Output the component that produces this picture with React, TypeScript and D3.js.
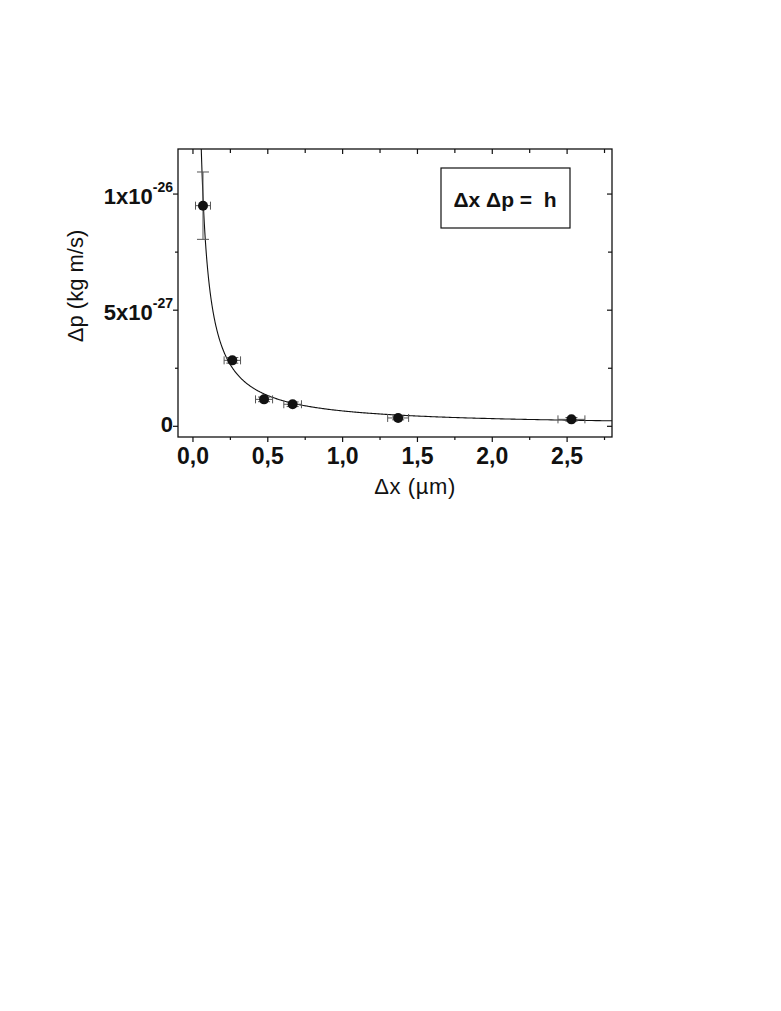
import { useMemo } from "react";
import * as d3 from "d3";

const W = 781;
const H_PX = 1011;
const FRAME = { left: 178, top: 149, right: 612, bottom: 437 };

// measured points: Δx in µm, Δp in kg m/s
const dx = [0.067, 0.263, 0.475, 0.666, 1.371, 2.529];
const dp = [9.5e-27, 2.84e-27, 1.16e-27, 0.95e-27, 0.36e-27, 0.3e-27];
const dxErr = [0.05, 0.055, 0.057, 0.059, 0.07, 0.09];
const dpErr = [1.45e-27, 0.12e-27, 0.1e-27, 0.1e-27, 0.08e-27, 0.08e-27];

// Planck constant expressed for Δx in µm -> Δp in kg m/s
const PLANCK_UM = 6.626e-28;

const xTicks = [0, 0.5, 1, 1.5, 2, 2.5];
const xMinor = [-0.25, 0.25, 0.75, 1.25, 1.75, 2.25, 2.75];
const yTicks = [0, 5e-27, 1e-26];
const yTickMain = ["0", "5x10", "1x10"];
const yTickSup = ["", "-27", "-26"];
const yMinor = [2.5e-27, 7.5e-27];

const FONT = "Arial, 'Liberation Sans', Helvetica, sans-serif";

const Chart = () => {
  const x = useMemo(
    () => d3.scaleLinear().domain([-0.1, 2.8]).range([FRAME.left, FRAME.right]),
    []
  );
  const y = useMemo(
    () => d3.scaleLinear().domain([-0.46e-27, 1.194e-26]).range([FRAME.bottom, FRAME.top]),
    []
  );

  // theoretical curve Δx·Δp = h
  const curvePath = useMemo(() => {
    const xStart = PLANCK_UM / y.domain()[1];
    const xs = d3.range(0, 401).map((i) => xStart * Math.pow(2.8 / xStart, i / 400));
    const line = d3
      .line<number>()
      .x((v) => x(v))
      .y((v) => y(PLANCK_UM / v))
      .curve(d3.curveMonotoneX);
    return line(xs) ?? "";
  }, [x, y]);

  const fmtX = (v: number) => d3.format(".1f")(v).replace(".", ",");

  return (
    <svg width={W} height={H_PX} style={{ position: "absolute", left: 0, top: 0 }}>
      <rect width={W} height={H_PX} fill="white" />
      <defs>
        <clipPath id="plot">
          <rect
            x={FRAME.left}
            y={FRAME.top}
            width={FRAME.right - FRAME.left}
            height={FRAME.bottom - FRAME.top}
          />
        </clipPath>
      </defs>

      {/* curve */}
      <path d={curvePath} fill="none" stroke="#111" strokeWidth={1.1} clipPath="url(#plot)" />

      {/* error bars */}
      <g stroke="#555" strokeWidth={1}>
        {dx.map((v, i) => {
          const cx = x(v);
          const cy = y(dp[i]);
          const x0 = x(v - dxErr[i]);
          const x1 = x(v + dxErr[i]);
          const y0 = y(dp[i] - dpErr[i]);
          const y1 = y(dp[i] + dpErr[i]);
          return (
            <g key={i}>
              <line x1={x0} x2={x1} y1={cy} y2={cy} />
              <line x1={x0} x2={x0} y1={cy - 4} y2={cy + 4} />
              <line x1={x1} x2={x1} y1={cy - 4} y2={cy + 4} />
              <line x1={cx} x2={cx} y1={y0} y2={y1} />
              <line x1={cx - 6} x2={cx + 6} y1={y0} y2={y0} />
              <line x1={cx - 6} x2={cx + 6} y1={y1} y2={y1} />
            </g>
          );
        })}
      </g>

      {/* points */}
      {dx.map((v, i) => (
        <circle key={i} cx={x(v)} cy={y(dp[i])} r={5} fill="#111" />
      ))}

      {/* frame */}
      <rect
        x={FRAME.left}
        y={FRAME.top}
        width={FRAME.right - FRAME.left}
        height={FRAME.bottom - FRAME.top}
        fill="none"
        stroke="#111"
        strokeWidth={1.3}
      />

      {/* x ticks: bottom outward, top inward */}
      <g stroke="#111" strokeWidth={1.2}>
        {xTicks.map((t) => (
          <g key={t}>
            <line x1={x(t)} x2={x(t)} y1={FRAME.bottom} y2={FRAME.bottom + 5} />
            <line x1={x(t)} x2={x(t)} y1={FRAME.top} y2={FRAME.top + 5} />
          </g>
        ))}
        {xMinor
          .filter((t) => x(t) > FRAME.left && x(t) < FRAME.right)
          .map((t) => (
            <g key={t}>
              <line x1={x(t)} x2={x(t)} y1={FRAME.bottom} y2={FRAME.bottom + 3} />
              <line x1={x(t)} x2={x(t)} y1={FRAME.top} y2={FRAME.top + 4} />
            </g>
          ))}
        {yTicks.map((t) => (
          <g key={t}>
            <line x1={FRAME.left - 5} x2={FRAME.left} y1={y(t)} y2={y(t)} />
            <line x1={FRAME.right - 5} x2={FRAME.right} y1={y(t)} y2={y(t)} />
          </g>
        ))}
        {yMinor.map((t) => (
          <g key={t}>
            <line x1={FRAME.left - 3} x2={FRAME.left} y1={y(t)} y2={y(t)} />
            <line x1={FRAME.right - 4} x2={FRAME.right} y1={y(t)} y2={y(t)} />
          </g>
        ))}
      </g>

      {/* x tick labels */}
      {xTicks.map((t) => (
        <text
          key={t}
          x={x(t)}
          y={464}
          textAnchor="middle"
          fontFamily={FONT}
          fontWeight="bold"
          fontSize={23}
          fill="#111"
        >
          {fmtX(t)}
        </text>
      ))}

      {/* y tick labels */}
      {yTicks.map((t, i) => (
        <text
          key={t}
          x={173}
          y={y(t) + (yTickSup[i] ? 10 : 6)}
          textAnchor="end"
          fontFamily={FONT}
          fontWeight="bold"
          fontSize={22}
          fill="#111"
        >
          {yTickMain[i]}
          {yTickSup[i] && (
            <tspan fontSize={14} dy={-12}>
              {yTickSup[i]}
            </tspan>
          )}
        </text>
      ))}

      {/* axis titles */}
      <text
        x={415}
        y={494}
        textAnchor="middle"
        fontFamily={FONT}
        fontSize={22}
        letterSpacing={0.6}
        fill="#111"
      >
        Δx (µm)
      </text>
      <text
        transform={`translate(83,286) rotate(-90)`}
        textAnchor="middle"
        fontFamily={FONT}
        fontSize={22}
        fill="#111"
      >
        Δp (kg m/s)
      </text>

      {/* legend box */}
      <rect x={441} y={168} width={129} height={60} fill="white" stroke="#111" strokeWidth={1.2} />
      <text
        x={505}
        y={207}
        textAnchor="middle"
        fontFamily={FONT}
        fontWeight="bold"
        fontSize={21}
        fill="#111"
        xmlSpace="preserve"
      >
        {"Δx Δp =  h"}
      </text>
    </svg>
  );
};

export default function App() {
  return <Chart />;
}
